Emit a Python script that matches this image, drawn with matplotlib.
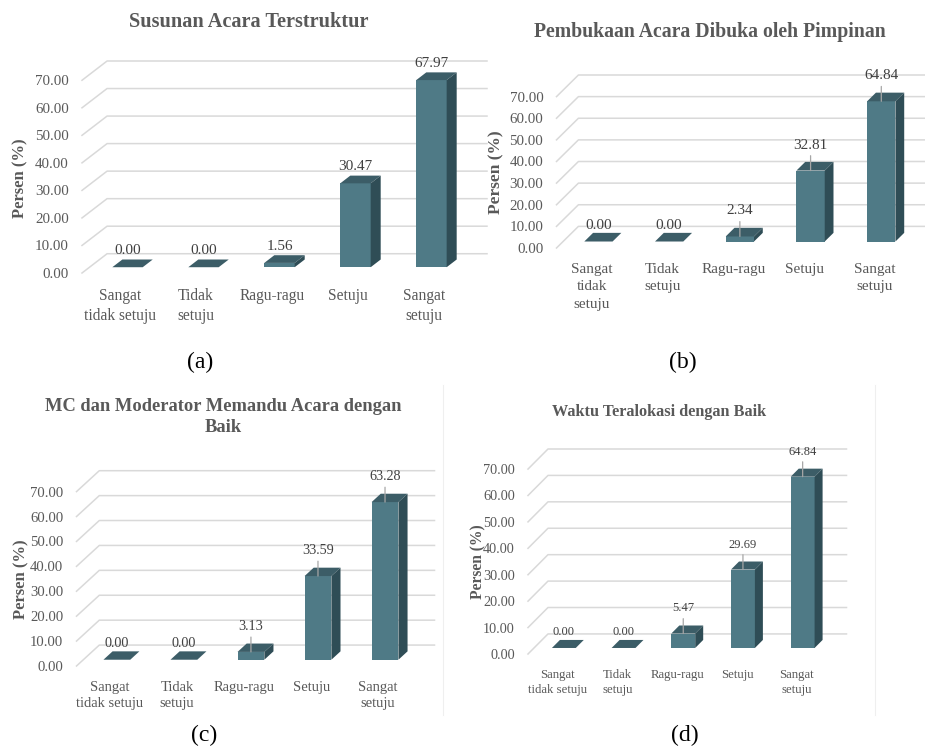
import numpy as np
import matplotlib.pyplot as plt

plt.rcParams['font.family'] = ['Liberation Serif', 'DejaVu Serif']

# data: persentase jawaban responden per pernyataan
kategori = ['Sangat\ntidak setuju', 'Tidak\nsetuju', 'Ragu-ragu', 'Setuju', 'Sangat\nsetuju']
kategori_b = ['Sangat\ntidak\nsetuju', 'Tidak\nsetuju', 'Ragu-ragu', 'Setuju', 'Sangat\nsetuju']

susunan = [0.00, 0.00, 1.56, 30.47, 67.97]
pembukaan = [0.00, 0.00, 2.34, 32.81, 64.84]
mc_moderator = [0.00, 0.00, 3.13, 33.59, 63.28]
waktu = [0.00, 0.00, 5.47, 29.69, 64.84]

judul = ['Susunan Acara Terstruktur',
         'Pembukaan Acara Dibuka oleh Pimpinan',
         'MC dan Moderator Memandu Acara dengan\nBaik',
         'Waktu Teralokasi dengan Baik']
huruf = ['(a)', '(b)', '(c)', '(d)']
yticks = np.arange(0, 71, 10)

FRONT = '#4f7a86'
TOP = '#3c5d67'
SIDE = '#2f4d56'
GRID = '#d9d9d9'
GREY = '#595959'

W, H = 925, 746
fig = plt.figure(figsize=(W / 100, H / 100), dpi=100)


def axes_px(l, r, t, b):
    return fig.add_axes([l / W, 1 - b / H, (r - l) / W, (b - t) / H])


def text_px(x, y, s, **kw):
    fig.text(x / W, 1 - y / H, s, **kw)


def panel(ax, values, cats, dx, dy, fs_tick, fs_cat, fs_val, leader, ls_cat=1.35):
    # pseudo 3D: depth 0 = front plane, depth 1 = back wall
    z0, z1, w = 0.3, 0.7, 0.4
    for g in yticks:
        ax.plot([-0.5, -0.5 + dx, 4.5 + dx], [g, g + dy, g + dy],
                color=GRID, lw=1.1, zorder=0, clip_on=False)

    x = np.arange(len(values)) + z0 * dx
    base = z0 * dy
    ddx, ddy = (z1 - z0) * dx, (z1 - z0) * dy
    ax.bar(x, values, width=w, bottom=base, color=FRONT, zorder=2)
    for xi, v in zip(x, values):
        top = base + v
        xl, xr = xi - w / 2, xi + w / 2
        ax.fill([xl, xr, xr + ddx, xl + ddx], [top, top, top + ddy, top + ddy],
                color=TOP, lw=0, zorder=2)
        ax.fill([xr, xr + ddx, xr + ddx, xr], [base, base + ddy, top + ddy, top],
                color=SIDE, lw=0, zorder=2)

        lifted = leader and v > 0
        ax.annotate(f'{v:.2f}', xy=(xi, top), xytext=(0, 13.7 if lifted else 7.2),
                    textcoords='offset points', ha='center', va='bottom',
                    fontsize=fs_val, color='#404040', zorder=4,
                    arrowprops=dict(arrowstyle='-', color='#a6a6a6', lw=0.9,
                                    shrinkA=1, shrinkB=0) if lifted else None)

    ax.set_xlim(-0.5, 4.5 + dx)
    ax.set_ylim(0, 70 + dy)
    ax.set_yticks(yticks, [f'{t:.2f}' for t in yticks])
    ax.set_xticks(range(len(cats)), cats)
    ax.tick_params(axis='y', length=0, pad=9.5, labelsize=fs_tick, labelcolor=GREY)
    ax.tick_params(axis='x', length=0, pad=10.5, labelsize=fs_cat, labelcolor=GREY)
    for lbl in ax.get_xticklabels():
        lbl.set_linespacing(ls_cat)
    for s in ax.spines.values():
        s.set_visible(False)
    ax.patch.set_alpha(0)


# (a)
ax = axes_px(82, 487, 61, 273)
panel(ax, susunan, kategori, 0.33, 7.0, 10.8, 11.2, 11, False)
# (b)
ax = axes_px(556.5, 932, 75, 248)
panel(ax, pembukaan, kategori_b, 0.31, 10.0, 10.8, 11, 11, True, ls_cat=1.45)
# (c)
ax = axes_px(76.5, 434.5, 470.7, 666)
panel(ax, mc_moderator, kategori, 0.34, 8.4, 10.6, 10.5, 10.2, True)
# (d)
ax = axes_px(528, 846.5, 449, 654)
panel(ax, waktu, kategori, 0.335, 7.6, 10.3, 9.2, 9, True)

# judul grafik
text_px(249, 22, judul[0], ha='center', va='center', fontsize=14.6,
        fontweight='bold', color=GREY)
text_px(710, 32, judul[1], ha='center', va='center', fontsize=14.2,
        fontweight='bold', color=GREY)
text_px(223, 417, judul[2], ha='center', va='center', fontsize=13.3,
        fontweight='bold', color=GREY, linespacing=1.3)
text_px(659, 412, judul[3], ha='center', va='center', fontsize=11.7,
        fontweight='bold', color=GREY)

# label sumbu y
for (x, y), fs in zip([(20, 178), (496, 172), (21, 579), (478, 562)], [12, 12.5, 12, 11.2]):
    text_px(x, y, 'Persen (%)', rotation=90, ha='center', va='center',
            fontsize=fs, fontweight='bold', color=GREY)

# huruf sub-gambar
for (x, y), s in zip([(200, 362), (683, 362), (204, 735), (685, 735)], huruf):
    text_px(x, y, s, ha='center', va='center', fontsize=17, color='black')

# batas area grafik bawah yang samar
for x in (443, 875):
    fig.add_artist(plt.Line2D([x / W, x / W], [1 - 385 / H, 1 - 715 / H],
                              color='#efefef', lw=0.8))

fig.savefig('out.png', dpi=100)
